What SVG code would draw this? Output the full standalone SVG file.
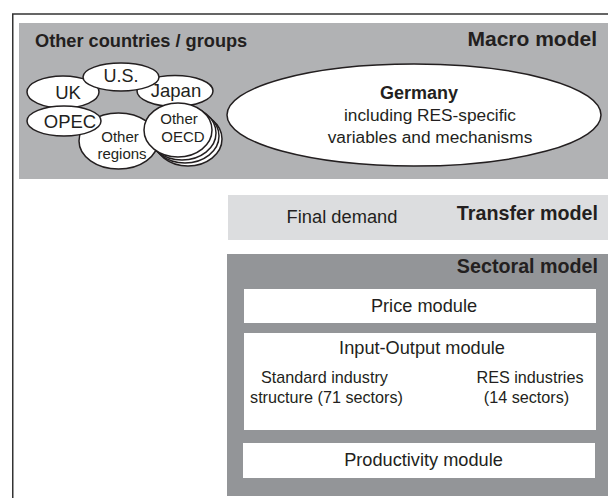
<svg xmlns="http://www.w3.org/2000/svg" width="608" height="498" viewBox="0 0 608 498">
<style>
text{font-family:"Liberation Sans",Arial,sans-serif;fill:#231f20}
.b{font-weight:bold}
.t{font-size:19.7px;font-weight:bold}
.c{text-anchor:middle}
.e{fill:#fff;stroke:#231f20;stroke-width:1.5}
.m{fill:#fff}
</style>
<rect x="0" y="0" width="608" height="498" fill="#fff"/>
<rect x="12.75" y="14" width="700" height="600" fill="none" stroke="#333" stroke-width="1.5"/>
<g id="macro">
<rect x="19" y="23" width="600" height="156" fill="#b1b2b4"/>
<text x="35" y="47" class="b" font-size="18.2">Other countries / groups</text>
<text x="597" y="46" class="b" font-size="21" text-anchor="end">Macro model</text>
</g>
<g id="uk"><ellipse class="e" cx="63" cy="92" rx="36" ry="16"/><text x="68" y="99" class="c" font-size="18.5">UK</text></g>
<g id="japan"><ellipse class="e" cx="175" cy="91" rx="38" ry="15.5"/><text x="176" y="97" class="c" font-size="18.5">Japan</text></g>
<g id="us"><ellipse class="e" cx="121" cy="77" rx="38" ry="14"/><text x="121" y="82" class="c" font-size="18">U.S.</text></g>
<g id="other-regions"><ellipse class="e" cx="118.5" cy="141" rx="39.5" ry="28"/><text x="120" y="142" class="c" font-size="15">Other</text><text x="122" y="159" class="c" font-size="15">regions</text></g>
<g id="opec"><ellipse class="e" cx="64" cy="121" rx="37" ry="15"/><text x="70" y="128" class="c" font-size="18.5">OPEC</text></g>
<g id="other-oecd">
<ellipse class="e" cx="188" cy="139" rx="34" ry="27"/>
<ellipse class="e" cx="185" cy="136" rx="34" ry="27"/>
<ellipse class="e" cx="182" cy="133" rx="34" ry="27"/>
<ellipse class="e" cx="178" cy="130" rx="34" ry="27"/>
<text x="179" y="124" class="c" font-size="15">Other</text><text x="183" y="142" class="c" font-size="15">OECD</text>
</g>
<g id="germany"><ellipse class="e" cx="414" cy="115" rx="187" ry="51"/>
<text x="419" y="99" class="c b" font-size="18">Germany</text>
<text x="430" y="121" class="c" font-size="17.3">including RES-specific</text>
<text x="430" y="143" class="c" font-size="17.3">variables and mechanisms</text></g>
<g id="transfer">
<rect x="228" y="195" width="400" height="45" fill="#dcdddf"/>
<text x="342" y="223" class="c" font-size="18.3">Final demand</text>
<text x="598" y="220" class="t" text-anchor="end">Transfer model</text>
</g>
<g id="sectoral">
<rect x="227" y="254" width="400" height="242" fill="#939598"/>
<text x="598" y="273" class="t" text-anchor="end">Sectoral model</text>
</g>
<g id="price"><rect class="m" x="244" y="289" width="352" height="34"/><text x="424" y="312" class="c" font-size="18.2">Price module</text></g>
<g id="io"><rect class="m" x="244" y="333" width="352" height="97"/>
<text x="422" y="354" class="c" font-size="18.2">Input-Output module</text>
<text x="324.5" y="383" class="c" font-size="16.2">Standard industry</text>
<text x="326.5" y="403" class="c" font-size="16.2">structure (71 sectors)</text>
<text x="530" y="383" class="c" font-size="16.2">RES industries</text>
<text x="526.5" y="403" class="c" font-size="16.2">(14 sectors)</text>
</g>
<g id="productivity"><rect class="m" x="243" y="443" width="352" height="35"/><text x="423.5" y="466" class="c" font-size="18.2">Productivity module</text></g>
<g id="connectors"/>
</svg>
